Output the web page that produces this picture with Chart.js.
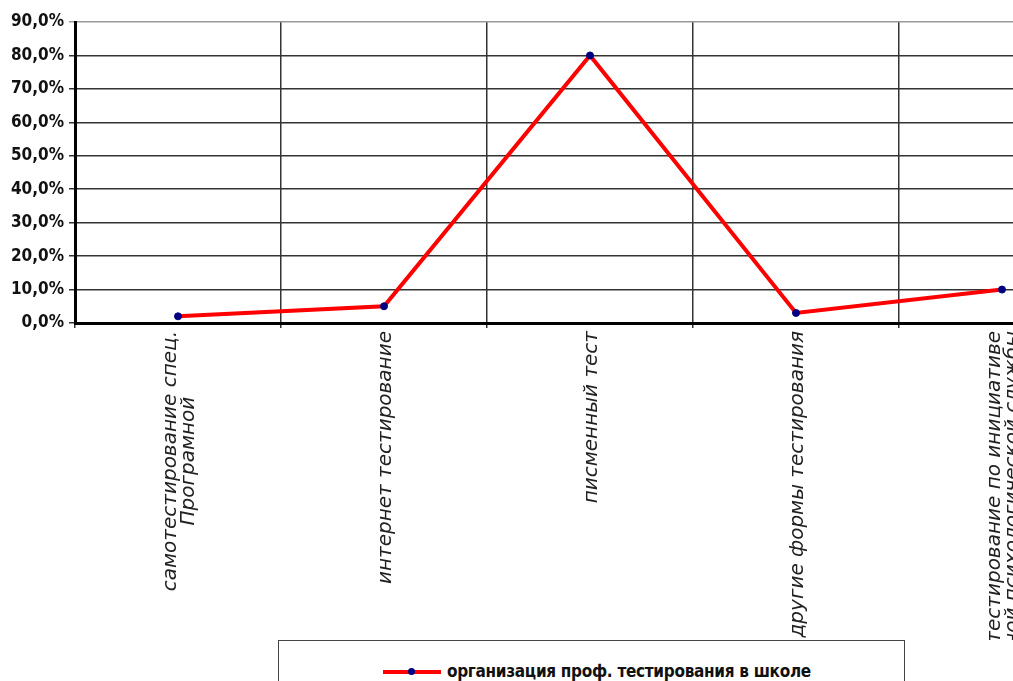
<!DOCTYPE html>
<html>
<head>
<meta charset="utf-8">
<script src="https://cdn.jsdelivr.net/npm/chart.js@4"></script>
<style>
  html, body { margin: 0; padding: 0; background: #fff; overflow: hidden; width: 1013px; height: 681px; }
  #wrap { position: absolute; left: 0; top: 0; width: 1110px; height: 681px; }
  #legend {
    position: absolute; left: 278px; top: 640px; width: 627px; height: 70px;
    border: 1px solid #444; background: #fff; box-sizing: border-box;
    font: bold 17px "Liberation Sans Narrow", "DejaVu Sans Condensed", sans-serif; color: #111;
  }
  #legend .item { position: absolute; left: 104px; top: 20px; white-space: nowrap; letter-spacing: -0.3px; }
  #legend .sym { display: inline-block; position: relative; width: 58px; height: 12px; margin-right: 6px; vertical-align: -1px; }
  #legend .sym .ln { position: absolute; left: 0; right: 0; top: 4px; height: 4px; background: #ff0000; }
  #legend .sym .dot { position: absolute; left: 25px; top: 2px; width: 7px; height: 7px; border-radius: 50%; background: #000080; }
</style>
</head>
<body>
<div id="wrap"><canvas id="chart"></canvas></div>
<div id="legend"></div>
<script>
const categories = [
  ['самотестирование спец.', 'Програмной'],
  'интернет тестирование',
  'писменный тест',
  'другие формы тестирования',
  ['тестирование по инициативе', 'школьной психологической службы']
];
const seriesName = 'организация проф. тестирования в школе';
const values = [2, 5, 80, 3, 10];
const yMin = 0;
const yMax = 90;
const yStep = 10;

// multi-line rotated labels: shorter lines centred under the first one, block centred on the tick
const centerLabels = {
  id: 'centerLabels',
  beforeDraw(chart) {
    const c = chart.ctx;
    chart.scales.x.getLabelItems().forEach(it => {
      if (it._shifted) return;
      it._shifted = true;
      if (Array.isArray(it.label)) {
        c.save();
        c.font = it.font.string;
        const widths = it.label.map(l => c.measureText(l).width);
        c.restore();
        if (widths[0] >= Math.max(...widths)) {
          it.options.textAlign = 'center';
          it.options.translation[1] += widths[0] / 2;
        }
        it.options.translation[0] -= 7;
      } else {
        it.options.translation[0] += 2;
      }
    });
  }
};

const ctx = document.getElementById('chart').getContext('2d');
const chart = new Chart(ctx, {
  type: 'line',
  data: {
    labels: categories,
    datasets: [{
      label: seriesName,
      data: values,
      borderColor: '#ff0000',
      borderWidth: 4,
      tension: 0,
      pointRadius: 3.5,
      pointBackgroundColor: '#000080',
      pointBorderColor: '#000080',
      pointBorderWidth: 1
    }]
  },
  options: {
    responsive: true,
    maintainAspectRatio: false,
    animation: false,
    layout: { padding: { top: 22, right: 2, bottom: 41, left: 0 } },
    plugins: { legend: { display: false }, tooltip: { enabled: false } },
    scales: {
      x: {
        offset: true,
        grid: { offset: true, color: '#333', lineWidth: 1.5, tickLength: 5 },
        border: { color: '#000', width: 3 },
        ticks: {
          autoSkip: false,
          minRotation: 90,
          maxRotation: 90,
          padding: 3,
          color: '#222',
          font: { family: '"DejaVu Sans"', style: 'italic', size: 20, lineHeight: 0.9 }
        },
        afterFit: s => { s.height = 317; }
      },
      y: {
        min: yMin,
        max: yMax,
        grid: {
          color: c => (c.tick && c.tick.value === yMax) ? '#999' : '#333',
          lineWidth: 1.5,
          tickLength: 6
        },
        border: { color: '#000', width: 3 },
        ticks: {
          stepSize: yStep,
          padding: 5,
          color: '#111',
          font: { family: '"Liberation Sans Narrow", "DejaVu Sans Condensed", sans-serif', weight: 'bold', size: 17 },
          callback: v => v.toFixed(1).replace('.', ',') + '%'
        },
        afterFit: s => { s.width = 75; }
      }
    }
  },
  plugins: [centerLabels]
});

const ds = chart.data.datasets[0];
document.getElementById('legend').innerHTML =
  '<span class="item"><span class="sym"><span class="ln"></span><span class="dot"></span></span>' + ds.label + '</span>';
</script>
</body>
</html>
